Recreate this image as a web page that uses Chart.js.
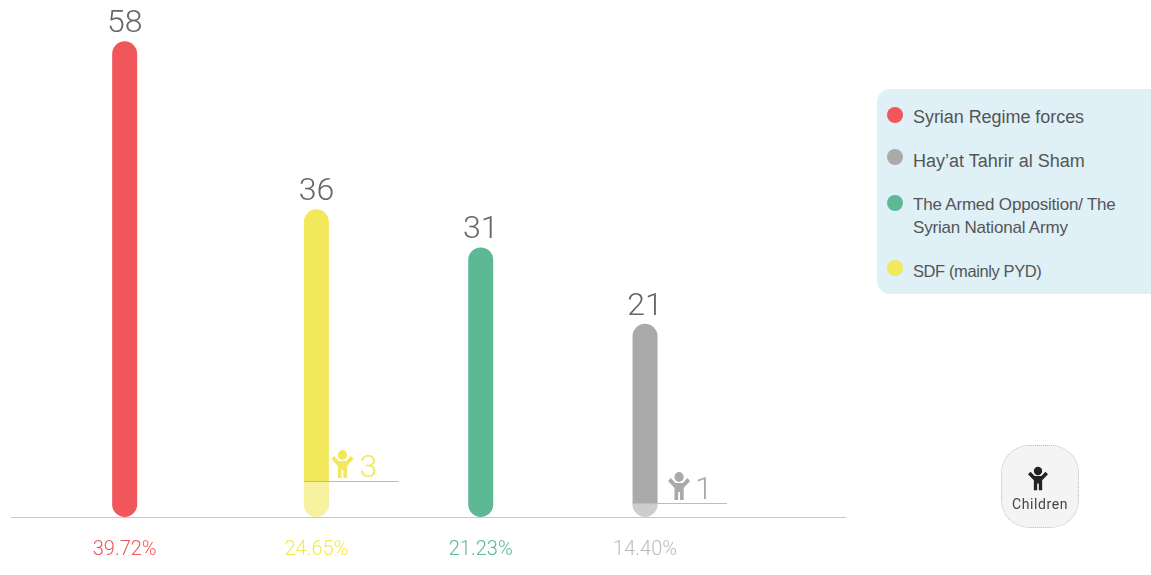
<!DOCTYPE html>
<html>
<head>
<meta charset="utf-8">
<script src="https://cdn.jsdelivr.net/npm/chart.js@4/dist/chart.umd.min.js"></script>
<style>
  html, body { margin: 0; background: #fff; }
  body { position: relative; width: 1151px; height: 575px; overflow: hidden; font-family: Roboto, sans-serif; }
  canvas { position: absolute; left: 0; top: 0; }
  #panel { position: absolute; left: 877px; top: 89px; width: 274px; height: 205px; background: #dff0f7; border-radius: 13px 0 0 13px; }
  .item { position: absolute; left: 36px; width: 225px; font-family: "Liberation Sans", sans-serif; line-height: 23px; color: #555; }
  .dot { position: absolute; left: -26px; width: 16px; height: 16px; border-radius: 50%; }
  #kids { position: absolute; left: 1001px; top: 445px; width: 78px; height: 83px; box-sizing: border-box; background: #f4f4f4; border: 1px dotted #bbb; border-radius: 28px; text-align: center; color: #444; font-size: 14px; letter-spacing: 0.6px; }
  #kids svg { display: block; position: relative; left: -2px; margin: 20px auto 5px; }
</style>
</head>
<body>
<canvas id="myChart" width="1151" height="575"></canvas>
<div id="panel"></div>
<div id="kids">
  <svg width="20" height="25" viewBox="0 0 24 28"><path fill="#222" d="M12 0a5 5 0 1 0 0 10a5 5 0 1 0 0-10Z M0 9 L3 6 L8 11 H16 L21 6 L24 9 L17 16 V28 H13 V20 H11 V28 H7 V16 Z"/></svg>
  Children
</div>
<script>
// values
const categories   = ['Syrian Regime forces', 'SDF (mainly PYD)', 'The Armed Opposition/ The Syrian National Army', "Hay\u2019at Tahrir al Sham"];
const totals       = [58, 36, 31, 21];
const children     = [null, 3, null, 1];
const percentages  = ['39.72%', '24.65%', '21.23%', '14.40%'];
const legendLabels = ['Syrian Regime forces', "Hay\u2019at Tahrir al Sham", 'The Armed Opposition/ The<br>Syrian National Army', 'SDF (mainly PYD)'];

// layout and colours
const slots        = [0, 7, 13, 19];
const barColors    = ['#f0565a', '#f1e85a', '#5cb994', '#aaaaaa'];
const textColors   = ['#f0565a', '#f5e84a', '#5cb994', '#bbbbbb'];
const legendColors = ['#f0565a', '#aaaaaa', '#5cb994', '#f1e85a'];
const legendTops   = [17, 61, 104, 171];
const legendSizes  = [18, 18, 17, 16.5];
const legendTrack  = [-0.05, 0, -0.2, -0.4];
const dotTops      = [1, -1, 2, 0];
const iconShift    = [0, 15, 0, 23];
const numberShift  = [0, 43, 0, 50];
const yMin  = -4.3;
const y2Min = -0.27;
const barWidth = 25;
const kidIcon = new Path2D('M12 0a5 5 0 1 0 0 10a5 5 0 1 0 0-10Z M0 9 L3 6 L8 11 H16 L21 6 L24 9 L17 16 V28 H13 V20 H11 V28 H7 V16 Z');

// legend box
const panel = document.querySelector('#panel');
legendLabels.forEach(function (label, i) {
    const item = document.createElement('div');
    item.className = 'item';
    item.style.top = legendTops[i] + 'px';
    item.style.fontSize = legendSizes[i] + 'px';
    item.style.letterSpacing = legendTrack[i] + 'px';
    item.innerHTML = '<span class="dot" style="background:' + legendColors[i] + ';top:' + dotTops[i] + 'px"></span>' + label;
    panel.appendChild(item);
});

// numbers over the bars and the children markers
const labelsPlugin = {
    id: 'labelsPlugin',
    afterDatasetsDraw(chart) {
        const ctx = chart.ctx;
        const x = chart.scales.x;
        const y = chart.scales.y;
        const y2 = chart.scales.y2;
        ctx.save();
        totals.forEach(function (v, i) {
            const px = x.getPixelForValue(slots[i]);
            ctx.fillStyle = '#666';
            ctx.font = '300 32px Roboto';
            ctx.textAlign = 'center';
            ctx.textBaseline = 'bottom';
            ctx.fillText(v, px, y.getPixelForValue(v) - 1);
            if (children[i] === null) return;
            const py = y2.getPixelForValue(children[i]);
            ctx.strokeStyle = '#bbb';
            ctx.lineWidth = 1;
            ctx.beginPath();
            ctx.moveTo(px - barWidth / 2, py + 0.5);
            ctx.lineTo(px + 82, py + 0.5);
            ctx.stroke();
            ctx.save();
            ctx.translate(px + iconShift[i], py - 31);
            ctx.scale(0.92, 1);
            ctx.fillStyle = barColors[i];
            ctx.fill(kidIcon);
            ctx.restore();
            ctx.fillStyle = barColors[i];
            ctx.textAlign = 'left';
            ctx.fillText(children[i], px + numberShift[i], py + 4);
        });
        ctx.restore();
    }
};

const data = {
    datasets: [
        {
            label: 'Children',
            data: children.map((v, i) => ({x: slots[i], y: v})),
            yAxisID: 'y2',
            base: y2Min,
            order: 1,
            backgroundColor: 'rgba(255,255,255,0.42)',
            borderRadius: {topLeft: 0, topRight: 0, bottomLeft: 13, bottomRight: 13},
            borderSkipped: false
        },
        {
            label: 'Total',
            data: totals.map((v, i) => ({x: slots[i], y: v})),
            yAxisID: 'y',
            base: yMin,
            order: 2,
            backgroundColor: barColors,
            borderRadius: 13,
            borderSkipped: false
        }
    ]
};

const config = {
    type: 'bar',
    data: data,
    plugins: [labelsPlugin],
    options: {
        responsive: false,
        animation: false,
        grouped: false,
        barThickness: barWidth,
        inflateAmount: 0,
        layout: {padding: {left: 11, right: 306, top: 0, bottom: 0}},
        plugins: {legend: {display: false}, tooltip: {enabled: false}},
        scales: {
            x: {
                type: 'linear',
                offset: false,
                min: -4.15,
                max: 26.3,
                grid: {display: false},
                border: {display: true, color: '#c8c8c8', width: 1},
                afterBuildTicks(scale) { scale.ticks = slots.map(v => ({value: v})); },
                afterFit(scale) { scale.height = 58; },
                ticks: {
                    autoSkip: false,
                    maxRotation: 0,
                    padding: 13,
                    font: {family: 'Roboto', size: 20, weight: '300'},
                    color: ctx => textColors[ctx.index],
                    callback: (value, index) => percentages[index]
                }
            },
            y:  {display: false, min: yMin, max: 63.4},
            y2: {display: false, min: y2Min, max: 46.7}
        }
    }
};
const myChart = new Chart(document.querySelector('#myChart'), config);
</script>
</body>
</html>
